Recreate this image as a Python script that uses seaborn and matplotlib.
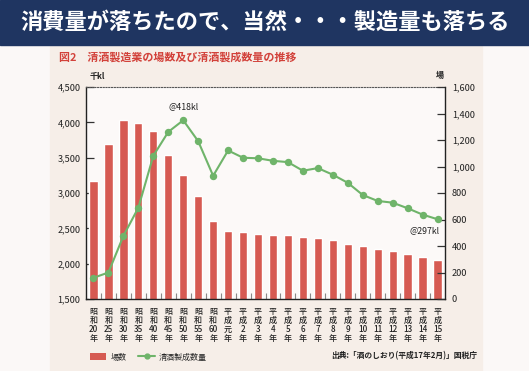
import numpy as np
import pandas as pd
import matplotlib
matplotlib.use("Agg")
import matplotlib.pyplot as plt
import seaborn as sns
from matplotlib.patches import Rectangle, Patch
from matplotlib.lines import Line2D
from matplotlib.ticker import FuncFormatter, MultipleLocator

# ---------------- data ----------------
eras = ["昭和"] * 9 + ["平成"] * 15
years = ["20", "25", "30", "35", "40", "45", "50", "55", "60",
         "元", "2", "3", "4", "5", "6", "7", "8", "9", "10",
         "11", "12", "13", "14", "15"]
tick_labels = [f"{e[0]}\n{e[1]}\n{y}\n年" for e, y in zip(eras, years)]
breweries = [3170, 3700, 4030, 3990, 3872, 3542, 3249, 2962, 2598,
             2462, 2452, 2418, 2410, 2410, 2377, 2358, 2335, 2282,
             2250, 2207, 2174, 2142, 2094, 2046]          # 場数 (left axis)
production = [160, 200, 476, 689, 1081, 1261, 1349, 1191, 930,
              1121, 1066, 1062, 1043, 1033, 968, 988, 938, 877,
              785, 740, 727, 685, 637, 602]               # 清酒製成数量 (right axis)
bar_name = "場数"
line_name = "清酒製成数量"
title = "消費量が落ちたので、当然・・・製造量も落ちる"
subtitle = "図2　清酒製造業の場数及び清酒製成数量の推移"
source = "出典:「酒のしおり(平成17年2月)」国税庁"
peak_note = "@418kl"
last_note = "@297kl"

df = pd.DataFrame({"label": tick_labels, "breweries": breweries,
                   "production": production})

# ---------------- style ----------------
sns.set_style("white")
plt.rcParams["font.family"] = ["Noto Sans CJK JP", "DejaVu Sans"]

BAR = "#d65a52"
GREEN = "#6fb46a"
NAVY = "#1f3561"
W, H = 529, 371

fig = plt.figure(figsize=(W / 100, H / 100), dpi=100)
fig.patch.set_facecolor("#fbf8f7")

# background bands
fig.patches.append(Rectangle((50 / W, 0), 432 / W, (H - 45) / H,
                             transform=fig.transFigure, color="#f6eee8", zorder=-10))
fig.patches.append(Rectangle((0, (H - 45) / H), 1, 45 / H,
                             transform=fig.transFigure, color=NAVY, zorder=-10))

fig.text(265 / W, 1 - 22 / H, title, color="white", fontsize=16,
         fontweight="bold", ha="center", va="center")
fig.text(59 / W, 1 - 57 / H, subtitle, color="#d2413a", fontsize=7.9,
         fontweight="bold", ha="left", va="center")

ax = fig.add_axes([86 / W, (H - 299) / H, 359 / W, 212 / H])
ax.set_zorder(5)
ax.set_facecolor("#fcf9f8")

sns.barplot(data=df, x="label", y="breweries", color=BAR, width=0.55,
            saturation=1, ax=ax, zorder=2)
ax.set_ylim(1500, 4500)
ax.set_xlim(-0.5, len(tick_labels) - 0.5)

ax2 = ax.twinx()
ax2.set_zorder(6)
ax2.patch.set_visible(False)
sns.pointplot(data=df, x="label", y="production", color=GREEN, ax=ax2,
              markers="o", markersize=4.2, linewidth=1.5, errorbar=None)
ax2.set_ylim(0, 1600)
ax2.set_xlim(-0.5, len(tick_labels) - 0.5)

for a in (ax, ax2):
    a.set_xlabel("")
    a.set_ylabel("")

fmt = FuncFormatter(lambda v, p: f"{v:,.0f}")
ax.yaxis.set_major_locator(MultipleLocator(500))
ax.yaxis.set_major_formatter(fmt)
ax2.yaxis.set_major_locator(MultipleLocator(200))
ax2.yaxis.set_major_formatter(fmt)

ax.tick_params(axis="y", direction="in", length=6, width=0.9, color="#333333",
               labelsize=6.6, pad=4, labelcolor="#222222", left=True)
ax2.tick_params(axis="y", direction="in", length=6, width=0.9, color="#333333",
                labelsize=6.6, pad=5, labelcolor="#222222", right=True)

ax.set_xticks(range(len(tick_labels)))
ax.set_xticklabels(tick_labels, fontsize=5.8, linespacing=1.0, color="#222222",
                   fontweight="medium")
ax.tick_params(axis="x", length=0, pad=6)
ax.set_xticks(np.arange(len(tick_labels) - 1) + 0.5, minor=True)
ax.tick_params(axis="x", which="minor", direction="in", length=4,
               width=0.8, color="#888888", bottom=True)
ax2.tick_params(axis="x", length=0, labelbottom=False)

for s in ("left", "bottom"):
    ax.spines[s].set_color("#222222")
    ax.spines[s].set_linewidth(1.0)
ax.spines["top"].set_linestyle((0, (1, 1.5)))
ax.spines["top"].set_color("#555555")
ax.spines["top"].set_linewidth(0.8)
ax.spines["right"].set_visible(False)
ax2.spines["right"].set_color("#222222")
ax2.spines["right"].set_linewidth(1.0)
for s in ("top", "left", "bottom"):
    ax2.spines[s].set_visible(False)

# unit labels
fig.text(90 / W, 1 - 77 / H, "千kl", fontsize=5.8, fontweight="bold",
         ha="left", va="center", color="#222222")
fig.text(440 / W, 1 - 75 / H, "場", fontsize=5.8, fontweight="bold",
         ha="center", va="center", color="#222222")

# annotations
peak_i = int(np.argmax(production))
ax2.annotate(peak_note, (peak_i, production[peak_i]), xytext=(0, 6.5),
             textcoords="offset points", ha="center", va="bottom",
             fontsize=6.3, color="#222222")
ax2.annotate(last_note, (len(production) - 1, production[-1]), xytext=(1.5, -5),
             textcoords="offset points", ha="right", va="top",
             fontsize=6.3, color="#222222")

# legend
handles = [Patch(facecolor=BAR, edgecolor="none"),
           Line2D([], [], color=GREEN, lw=1.5, marker="o", markersize=3.5)]
fig.legend(handles, [bar_name, line_name], loc="center left",
           bbox_to_anchor=(83 / W, (H - 357) / H), ncol=2, frameon=False,
           fontsize=5.8, handlelength=2.0, handleheight=0.9,
           columnspacing=1.5, handletextpad=0.5)

fig.text(477 / W, (H - 356) / H, source, fontsize=5.6, fontweight="bold",
         ha="right", va="center", color="#222222")

fig.savefig("out.png", dpi=100, facecolor=fig.get_facecolor())
